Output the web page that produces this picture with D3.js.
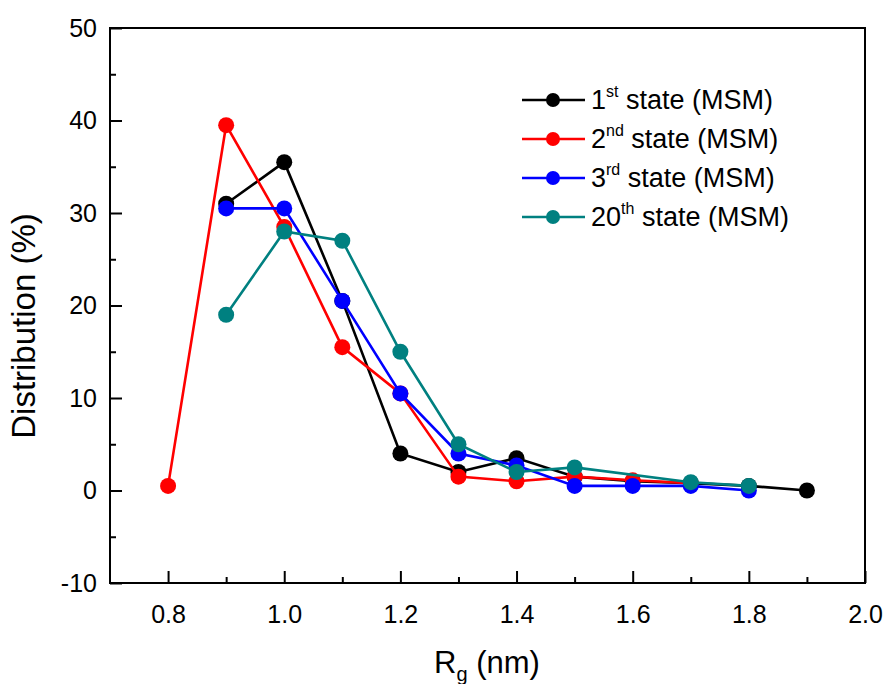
<!DOCTYPE html>
<html>
<head>
<meta charset="utf-8">
<script src="https://cdn.jsdelivr.net/npm/d3@7"></script>
<style>
  html, body { margin: 0; padding: 0; background: #fff; }
  svg { display: block; }
  text { font-family: Arial, "Liberation Sans", sans-serif; fill: #000; }
</style>
</head>
<body>
<svg id="chart" width="886" height="684"></svg>
<script>
// Radius of gyration (nm) bins and distribution (%) per MSM state
const x1st  = [0.9, 1.0, 1.1, 1.2, 1.3, 1.4, 1.5, 1.6, 1.7, 1.8, 1.9];
const y1st  = [31, 35.5, 20.5, 4, 2, 3.5, 1.5, 1, 0.8, 0.5, 0];

const x2nd  = [0.8, 0.9, 1.0, 1.1, 1.2, 1.3, 1.4, 1.5, 1.6, 1.7];
const y2nd  = [0.5, 39.5, 28.5, 15.5, 10.5, 1.5, 1, 1.5, 1.1, 0.8];

const x3rd  = [0.9, 1.0, 1.1, 1.2, 1.3, 1.4, 1.5, 1.6, 1.7, 1.8];
const y3rd  = [30.5, 30.5, 20.5, 10.5, 4, 2.7, 0.5, 0.5, 0.5, 0];

const x20th = [0.9, 1.0, 1.1, 1.2, 1.3, 1.4, 1.5, 1.7, 1.8];
const y20th = [19, 28, 27, 15, 5, 2, 2.5, 0.9, 0.5];

const seriesNames = ["1", "2", "3", "20"];
const seriesSups  = ["st", "nd", "rd", "th"];
const seriesColors = ["#000000", "#ff0000", "#0000ff", "#008080"];

const xTicks = [0.8, 1.0, 1.2, 1.4, 1.6, 1.8, 2.0];
const yTicks = [-10, 0, 10, 20, 30, 40, 50];

const series = [
  { xs: x1st, ys: y1st },
  { xs: x2nd, ys: y2nd },
  { xs: x3rd, ys: y3rd },
  { xs: x20th, ys: y20th }
].map((s, i) => ({
  name: seriesNames[i],
  sup: seriesSups[i],
  color: seriesColors[i],
  points: s.xs.map((x, j) => ({ x, y: s.ys[j] }))
}));

const svg = d3.select("#chart");
const plot = { left: 110, right: 865, top: 28, bottom: 583 };
const FONT = "Arial, 'Liberation Sans', sans-serif";

const x = d3.scaleLinear().domain([0.7, 2.0]).range([plot.left, plot.right]);
const y = d3.scaleLinear().domain([-10, 50]).range([plot.bottom, plot.top]);

// Frame
svg.append("rect")
  .attr("x", plot.left).attr("y", plot.top)
  .attr("width", plot.right - plot.left)
  .attr("height", plot.bottom - plot.top)
  .attr("fill", "none").attr("stroke", "#000").attr("stroke-width", 2);

// Bottom axis: major ticks with labels, minor ticks in between (inward)
const xMinor = d3.range(0.9, 2.0, 0.2).map(v => +v.toFixed(1));
const xAxis = svg.append("g").attr("transform", `translate(0,${plot.bottom})`);
xAxis.call(d3.axisBottom(x).tickValues(xTicks).tickFormat(d3.format(".1f"))
    .tickSizeInner(-12).tickSizeOuter(0).tickPadding(22));
xAxis.append("g").call(d3.axisBottom(x).tickValues(xMinor).tickFormat("")
    .tickSizeInner(-6).tickSizeOuter(0));
xAxis.selectAll(".domain").remove();
xAxis.selectAll("line").attr("stroke", "#000").attr("stroke-width", 2);
xAxis.selectAll("text").attr("font-size", 25).attr("fill", "#000").attr("font-family", FONT);

// Left axis (plain hyphen for negatives)
const yMinor = d3.range(-5, 50, 10);
const yAxis = svg.append("g").attr("transform", `translate(${plot.left},0)`);
yAxis.call(d3.axisLeft(y).tickValues(yTicks).tickFormat(d => String(d))
    .tickSizeInner(-12).tickSizeOuter(0).tickPadding(13));
yAxis.append("g").call(d3.axisLeft(y).tickValues(yMinor).tickFormat("")
    .tickSizeInner(-6).tickSizeOuter(0));
yAxis.selectAll(".domain").remove();
yAxis.selectAll("line").attr("stroke", "#000").attr("stroke-width", 2);
yAxis.selectAll("text").attr("font-size", 25).attr("fill", "#000").attr("font-family", FONT);

// Axis titles
const xTitle = svg.append("text")
  .attr("x", 487).attr("y", 673)
  .attr("text-anchor", "middle")
  .attr("font-size", 31);
xTitle.append("tspan").text("R");
xTitle.append("tspan").attr("font-size", 20).attr("dy", 8).text("g");
xTitle.append("tspan").attr("dy", -8).text(" (nm)");

svg.append("text")
  .attr("transform", "translate(35,326) rotate(-90)")
  .attr("text-anchor", "middle")
  .attr("font-size", 33)
  .text("Distribution (%)");

// Lines and markers
const line = d3.line().x(d => x(d.x)).y(d => y(d.y));

const g = svg.append("g");
series.forEach(s => {
  const sg = g.append("g");
  sg.append("path")
    .datum(s.points)
    .attr("d", line)
    .attr("fill", "none")
    .attr("stroke", s.color)
    .attr("stroke-width", 2.6);
  sg.selectAll("circle")
    .data(s.points)
    .join("circle")
    .attr("cx", d => x(d.x))
    .attr("cy", d => y(d.y))
    .attr("r", 8)
    .attr("fill", s.color);
});

// Legend
const legend = svg.append("g");
series.forEach((s, i) => {
  const cy = 100 + i * 39;
  const row = legend.append("g");
  row.append("line")
    .attr("x1", 522).attr("x2", 585)
    .attr("y1", cy).attr("y2", cy)
    .attr("stroke", s.color).attr("stroke-width", 2.6);
  row.append("circle")
    .attr("cx", 553).attr("cy", cy).attr("r", 7)
    .attr("fill", s.color);
  const t = row.append("text")
    .attr("x", 591).attr("y", cy + 9)
    .attr("font-size", 27);
  t.append("tspan").text(s.name);
  t.append("tspan").attr("font-size", 16).attr("dy", -12).text(s.sup);
  t.append("tspan").attr("dy", 12).text(" state (MSM)");
});
</script>
</body>
</html>
